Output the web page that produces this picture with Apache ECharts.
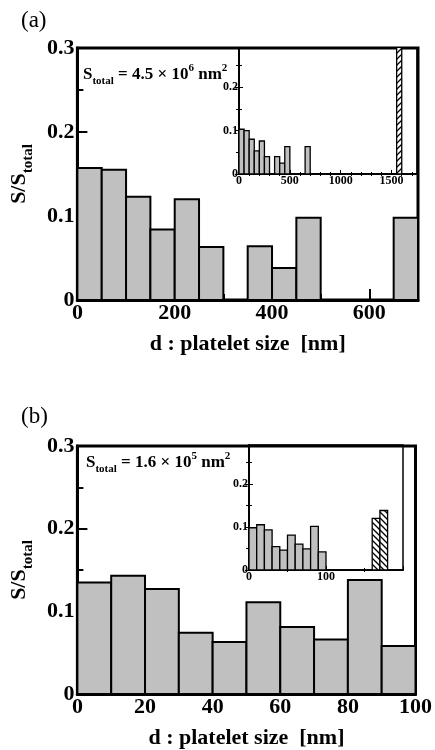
<!DOCTYPE html>
<html>
<head>
<meta charset="utf-8">
<script src="https://cdn.jsdelivr.net/npm/echarts@6/dist/echarts.min.js"></script>
<style>
  html, body { margin: 0; padding: 0; background: #fff; }
  #main { width: 435px; height: 750px; }
</style>
</head>
<body>
<div id="main"></div>
<script>
// panel (a): bins are 50 nm wide, value = left edge of the bin
var binsA = [0, 50, 100, 150, 200, 250, 350, 400, 450, 650];
var fracA = [0.157, 0.155, 0.123, 0.084, 0.120, 0.063, 0.064, 0.038, 0.098, 0.098];
var insetFracA = [0.103, 0.100, 0.080, 0.053, 0.076, 0.040, 0.040, 0.025, 0.063, 0.063];
var insetBigBinA = [1550];
var insetBigFracA = [0.36];

// panel (b): bins are 10 nm wide
var binsB = [0, 10, 20, 30, 40, 50, 60, 70, 80, 90];
var fracB = [0.135, 0.143, 0.127, 0.074, 0.063, 0.111, 0.081, 0.066, 0.138, 0.058];
var insetFracB = [0.098, 0.105, 0.093, 0.054, 0.046, 0.081, 0.060, 0.049, 0.101, 0.042];
var insetBigBinB = [160, 170];
var insetBigFracB = [0.120, 0.138];

var serif = 'Liberation Serif';
var gray = '#c0c0c0';

function pairs(xs, ys) {
    var out = [];
    for (var i = 0; i < xs.length; i++) out.push([xs[i], ys[i]]);
    return out;
}

// diagonal stripes for the hatched bars
function hatch(back) {
    var c = document.createElement('canvas');
    c.width = 6; c.height = 6;
    var g = c.getContext('2d');
    g.fillStyle = '#fff';
    g.fillRect(0, 0, 6, 6);
    g.strokeStyle = '#000';
    g.lineWidth = 1.3;
    g.beginPath();
    if (back) {
        g.moveTo(-1, -1); g.lineTo(7, 7);
        g.moveTo(-1, 5); g.lineTo(1, 7);
        g.moveTo(5, -1); g.lineTo(7, 1);
    } else {
        g.moveTo(-1, 7); g.lineTo(7, -1);
        g.moveTo(-1, 1); g.lineTo(1, -1);
        g.moveTo(5, 7); g.lineTo(7, 5);
    }
    g.stroke();
    return { image: c, repeat: 'repeat' };
}

function histo(xi, yi, data, width, fill, lw) {
    return {
        type: 'custom',
        xAxisIndex: xi,
        yAxisIndex: yi,
        clip: true,
        data: data,
        encode: { x: 0, y: 1 },
        renderItem: function (params, api) {
            var x0 = api.value(0), y = api.value(1);
            var p0 = api.coord([x0, y]);
            var p1 = api.coord([x0 + width, 0]);
            return {
                type: 'rect',
                shape: { x: p0[0], y: p0[1], width: p1[0] - p0[0], height: p1[1] - p0[1] },
                style: { fill: fill, stroke: '#000', lineWidth: lw }
            };
        }
    };
}

function fmt(v) {
    return v === 0 ? '0' : v.toFixed(1);
}

function mainX(grid, max, interval, showMax) {
    return {
        type: 'value', gridIndex: grid, min: 0, max: max, interval: interval,
        axisLine: { lineStyle: { color: '#000', width: 3 } },
        axisTick: { inside: true, length: 11, lineStyle: { color: '#000', width: 2 } },
        minorTick: { show: true, splitNumber: 2, length: 6, lineStyle: { color: '#000', width: 2 } },
        splitLine: { show: false },
        axisLabel: {
            fontFamily: serif, fontWeight: 'bold', fontSize: 22, color: '#000', margin: 2,
            showMaxLabel: showMax, formatter: function (v) { return String(v); }
        },
        name: '{t|d : platelet size  [nm]}',
        nameLocation: 'middle',
        nameGap: 33,
        nameTextStyle: { rich: { t: { fontFamily: serif, fontWeight: 'bold', fontSize: 22, color: '#000' } } }
    };
}

function mainY(grid) {
    return {
        type: 'value', gridIndex: grid, min: 0, max: 0.3, interval: 0.1,
        axisLine: { lineStyle: { color: '#000', width: 3 } },
        axisTick: { inside: true, length: 10, lineStyle: { color: '#000', width: 2 } },
        minorTick: { show: true, splitNumber: 2, length: 6, lineStyle: { color: '#000', width: 2 } },
        splitLine: { show: false },
        axisLabel: { fontFamily: serif, fontWeight: 'bold', fontSize: 22, color: '#000', margin: 3, formatter: fmt },
        name: '{m|S/S}{s|total}',
        nameLocation: 'middle',
        nameGap: 40,
        nameTextStyle: {
            rich: {
                m: { fontFamily: serif, fontWeight: 'bold', fontSize: 22, color: '#000', lineHeight: 28, verticalAlign: 'top' },
                s: { fontFamily: serif, fontWeight: 'bold', fontSize: 15, color: '#000', lineHeight: 14, verticalAlign: 'bottom' }
            }
        }
    };
}

function insetX(grid, max, interval, minorSplit, top) {
    return {
        type: 'value', gridIndex: grid, min: 0, max: max, interval: interval,
        position: top ? 'top' : 'bottom',
        axisLine: { lineStyle: { color: '#000', width: 1.5 } },
        axisTick: { show: !top, inside: true, length: 4, lineStyle: { color: '#000', width: 1 } },
        minorTick: { show: true, splitNumber: minorSplit, length: 2, lineStyle: { color: '#000', width: 1 } },
        splitLine: { show: false },
        axisLabel: {
            show: !top, showMaxLabel: false, fontFamily: serif, fontWeight: 'bold', fontSize: 12,
            color: '#000', margin: 1, formatter: function (v) { return String(v); }
        }
    };
}

function insetY(grid, right) {
    return {
        type: 'value', gridIndex: grid, min: 0, max: 0.29, interval: 0.1,
        position: right ? 'right' : 'left',
        axisLine: { lineStyle: { color: '#000', width: 1.5 } },
        axisTick: { inside: true, length: 4, lineStyle: { color: '#000', width: 1 } },
        minorTick: { show: true, splitNumber: 2, length: 3, lineStyle: { color: '#000', width: 1 } },
        splitLine: { show: false },
        axisLabel: {
            show: !right, showMaxLabel: false, fontFamily: serif, fontWeight: 'bold', fontSize: 12,
            color: '#000', margin: 1, formatter: fmt
        }
    };
}

var stotalRich = {
    b: { fontFamily: serif, fontWeight: 'bold', fontSize: 17, color: '#000', lineHeight: 24, verticalAlign: 'middle' },
    s: { fontFamily: serif, fontWeight: 'bold', fontSize: 11, color: '#000', lineHeight: 11, verticalAlign: 'bottom' },
    p: { fontFamily: serif, fontWeight: 'bold', fontSize: 11, color: '#000', lineHeight: 11, verticalAlign: 'top' }
};

var option = {
    backgroundColor: '#fff',
    animation: false,
    grid: [
        { left: 76, top: 48, width: 342, height: 252, show: true, borderColor: '#000', borderWidth: 3 },
        { left: 239, top: 48, width: 178, height: 126, show: true, borderColor: '#000', borderWidth: 1.5 },
        { left: 76, top: 446, width: 342, height: 250, show: true, borderColor: '#000', borderWidth: 3 },
        { left: 249, top: 445, width: 154, height: 125, show: true, borderColor: '#000', borderWidth: 1.5 }
    ],
    xAxis: [
        mainX(0, 700, 200, false),
        insetX(1, 1750, 500, 5, false),
        insetX(1, 1750, 500, 5, true),
        mainX(2, 100, 20, true),
        insetX(3, 200, 100, 2, false),
        insetX(3, 200, 100, 2, true)
    ],
    yAxis: [
        mainY(0),
        insetY(1, false),
        insetY(1, true),
        mainY(2),
        insetY(3, false),
        insetY(3, true)
    ],
    series: [
        histo(0, 0, pairs(binsA, fracA), 50, gray, 2),
        histo(1, 1, pairs(binsA, insetFracA), 50, gray, 1.3),
        histo(1, 1, pairs(insetBigBinA, insetBigFracA), 50, hatch(false), 1.3),
        histo(3, 3, pairs(binsB, fracB), 10, gray, 2),
        histo(4, 4, pairs(binsB, insetFracB), 10, gray, 1.3),
        histo(4, 4, pairs(insetBigBinB, insetBigFracB), 10, hatch(true), 1.3)
    ],
    graphic: [
        { type: 'text', left: 21, top: 9, style: { text: '(a)', font: '23px "Liberation Serif"', fill: '#000' } },
        { type: 'text', left: 21, top: 405, style: { text: '(b)', font: '23px "Liberation Serif"', fill: '#000' } },
        { type: 'text', left: 83, top: 63, style: { text: '{b|S}{s|total}{b| = 4.5 × 10}{p|6}{b| nm}{p|2}', rich: stotalRich } },
        { type: 'text', left: 86, top: 451, style: { text: '{b|S}{s|total}{b| = 1.6 × 10}{p|5}{b| nm}{p|2}', rich: stotalRich } }
    ]
};

var chart = echarts.init(document.getElementById('main'));
chart.setOption(option);
</script>
</body>
</html>
